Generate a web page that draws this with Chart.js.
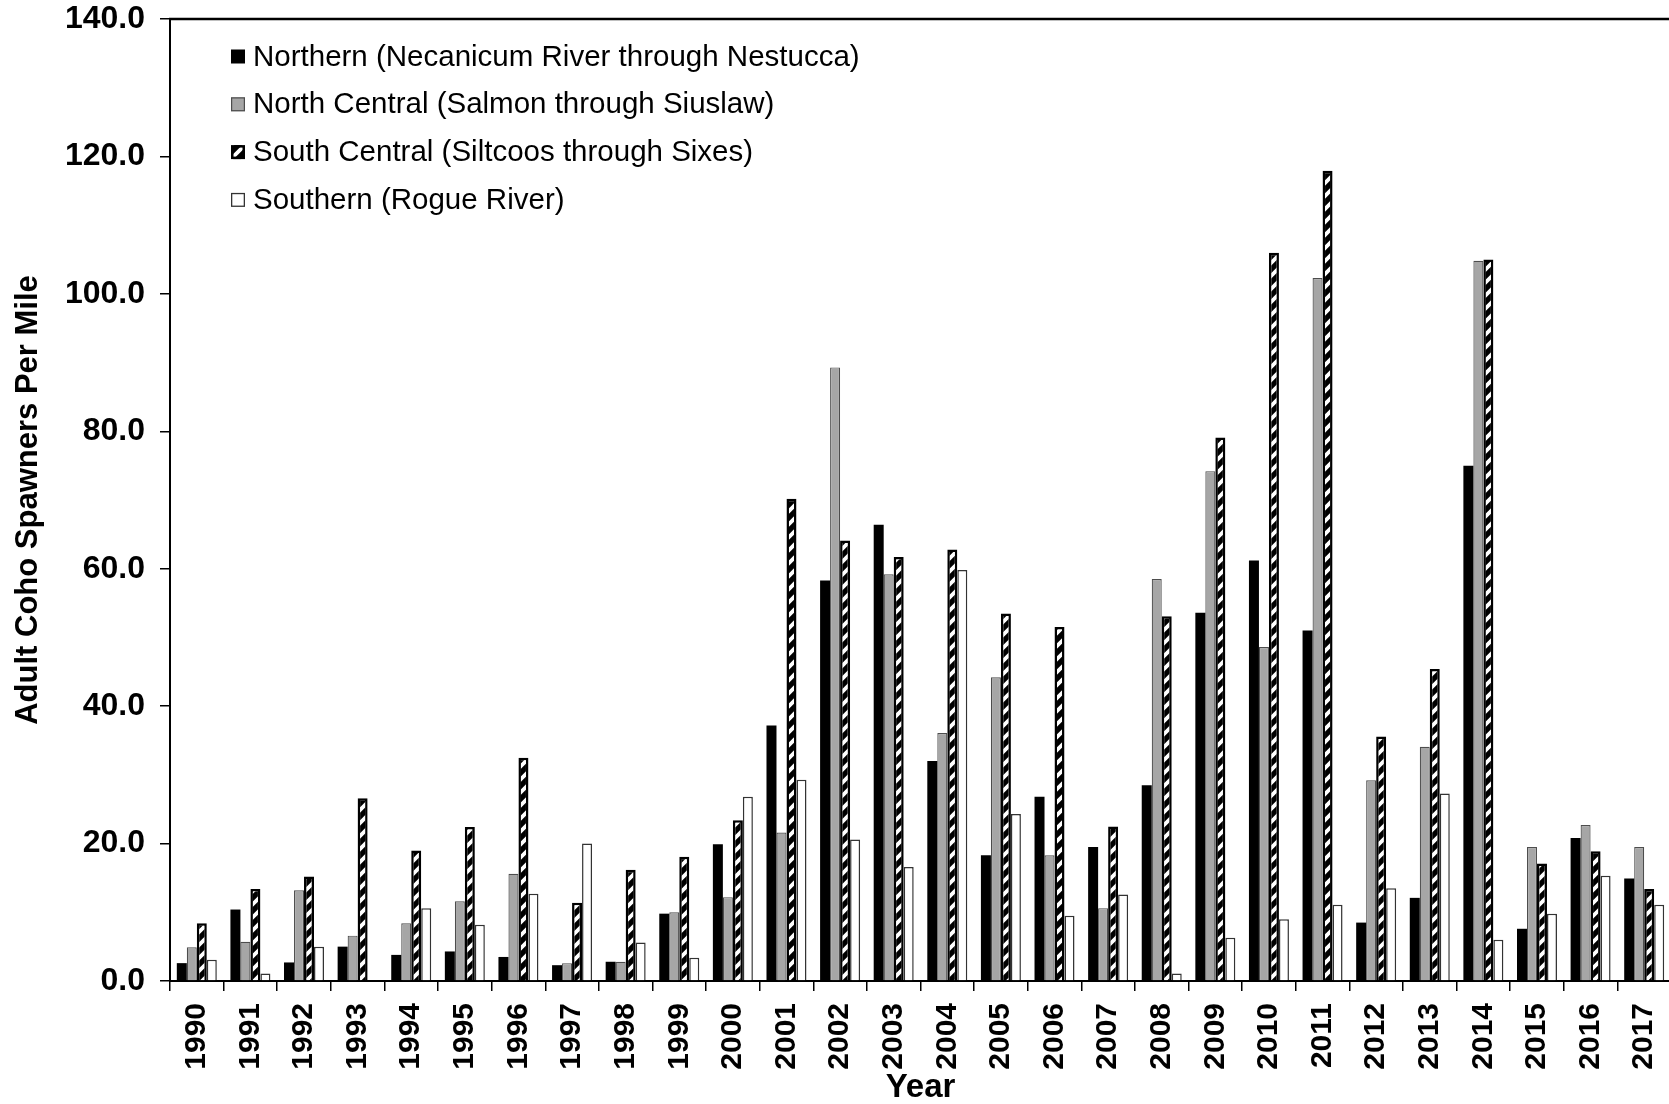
<!DOCTYPE html>
<html><head><meta charset="utf-8">
<script src="https://cdn.jsdelivr.net/npm/chart.js@4/dist/chart.umd.min.js"></script>
<style>
html,body{margin:0;padding:0;background:#fff;overflow:hidden;width:1669px;height:1104px;}
#wrap{position:absolute;left:0;top:0;width:1720px;height:1104px;}
</style></head><body>
<div id="wrap"><canvas id="c" width="1720" height="1104"></canvas></div>
<script>
const years = ['1990','1991','1992','1993','1994','1995','1996','1997','1998','1999','2000','2001','2002','2003','2004','2005','2006','2007','2008','2009','2010','2011','2012','2013','2014','2015','2016','2017'];
const northern     = [2.6, 10.4, 2.7, 5.0, 3.8, 4.3, 3.5, 2.3, 2.8, 9.8, 19.9, 37.2, 58.3, 66.4, 32.0, 18.3, 26.8, 19.5, 28.5, 53.6, 61.2, 51.0, 8.5, 12.1, 75.0, 7.6, 20.8, 14.9];
const northCentral = [4.9, 5.7, 13.2, 6.6, 8.4, 11.6, 15.6, 2.6, 2.8, 10.0, 12.2, 21.6, 89.3, 59.2, 36.1, 44.2, 18.3, 10.6, 58.5, 74.2, 48.6, 102.3, 29.2, 34.1, 104.8, 19.5, 22.7, 19.5];
const southCentral = [8.4, 13.4, 15.2, 26.6, 19.0, 22.4, 32.5, 11.4, 16.2, 18.1, 23.4, 70.2, 64.1, 61.7, 62.8, 53.5, 51.5, 22.5, 53.1, 79.1, 106.0, 117.9, 35.6, 45.4, 105.0, 17.1, 18.9, 13.4];
const southern     = [3.1, 1.1, 5.0, null, 10.6, 8.2, 12.7, 20.0, 5.6, 3.4, 26.8, 29.3, 20.6, 16.6, 59.8, 24.3, 9.5, 12.6, 1.1, 6.3, 9.0, 11.1, 13.5, 27.3, 6.0, 9.8, 15.3, 11.1];
const seriesNames = [
  'Northern (Necanicum River through Nestucca)',
  'North Central (Salmon through Siuslaw)',
  'South Central (Siltcoos through Sixes)',
  'Southern (Rogue River)'
];
const yAxisTitle = 'Adult Coho Spawners Per Mile';
const xAxisTitle = 'Year';

const FONT = "'Liberation Sans', Arial, sans-serif";

function makeHatch() {
  const P = 13;
  const c = document.createElement('canvas');
  c.width = P; c.height = P;
  const g = c.getContext('2d');
  g.fillStyle = '#000'; g.fillRect(0, 0, P, P);
  g.strokeStyle = '#fff'; g.lineWidth = 3.8;
  g.beginPath();
  g.moveTo(-1, P + 1); g.lineTo(P + 1, -1);
  g.moveTo(-P / 2 - 1, P / 2 + 1); g.lineTo(P / 2 + 1, -P / 2 - 1);
  g.moveTo(P / 2 - 1, P * 1.5 + 1); g.lineTo(P * 1.5 + 1, P / 2 - 1);
  g.stroke();
  return g.createPattern(c, 'repeat');
}
const hatch = makeHatch();

const frame = {
  id: 'frame',
  afterDraw(chart) {
    const {ctx, chartArea: a} = chart;
    ctx.save();
    ctx.strokeStyle = '#000';
    ctx.lineWidth = 2.5;
    ctx.beginPath();
    ctx.moveTo(a.left - 1, a.top);
    ctx.lineTo(a.right, a.top);
    ctx.stroke();
    ctx.restore();
  }
};

const boxLegend = {
  id: 'boxLegend',
  afterDraw(chart) {
    const {ctx, chartArea: a} = chart;
    const bx = a.left + 61, by0 = a.top + 37.5, step = 47.8, size = 14;
    ctx.save();
    ctx.font = '29.5px ' + FONT;
    ctx.textBaseline = 'middle';
    ctx.textAlign = 'left';
    chart.data.datasets.forEach((ds, i) => {
      const cy = by0 + i * step;
      ctx.fillStyle = ds.backgroundColor;
      ctx.fillRect(bx, cy - size / 2, size, size);
      if (ds.legendBorder) {
        ctx.strokeStyle = ds.borderColor;
        ctx.lineWidth = ds.legendBorder;
        const h = ds.legendBorder / 2;
        ctx.strokeRect(bx + h, cy - size / 2 + h, size - 2 * h, size - 2 * h);
      }
      ctx.fillStyle = '#000';
      ctx.fillText(ds.label, bx + size + 8, cy + 1);
    });
    ctx.restore();
  }
};

new Chart(document.getElementById('c'), {
  type: 'bar',
  data: {
    labels: years,
    datasets: [
      {label: seriesNames[0], data: northern, backgroundColor: '#000000', borderColor: '#000000', borderWidth: 0, legendBorder: 0},
      {label: seriesNames[1], data: northCentral, backgroundColor: '#a6a6a6', borderColor: '#4d4d4d', borderWidth: 1.2, legendBorder: 1.2},
      {label: seriesNames[2], data: southCentral, backgroundColor: hatch, borderColor: '#000000', borderWidth: 2.5, legendBorder: 2.5},
      {label: seriesNames[3], data: southern, backgroundColor: '#ffffff', borderColor: '#333333', borderWidth: 1.5, legendBorder: 1.3}
    ]
  },
  options: {
    responsive: false,
    animation: false,
    devicePixelRatio: 1,
    layout: {padding: {left: 0, top: 19, right: 49, bottom: 0}},
    datasets: {bar: {categoryPercentage: 0.746, barPercentage: 1.0, borderSkipped: 'bottom'}},
    plugins: {legend: {display: false}, tooltip: {enabled: false}},
    scales: {
      x: {
        offset: true,
        grid: {display: true, offset: true, drawOnChartArea: false, drawTicks: true, tickLength: 10, color: '#000', lineWidth: 1.5},
        border: {display: true, color: '#000', width: 2},
        ticks: {color: '#000', font: {family: FONT, size: 30, weight: 'bold'}, minRotation: 90, maxRotation: 90, padding: 12, autoSkip: false},
        title: {display: true, text: xAxisTitle, color: '#000', font: {family: FONT, size: 33, weight: 'bold', lineHeight: 1.0}, padding: {top: 0, bottom: 0}},
        afterFit(s) { s.height = 123; s.paddingLeft = 0; s.paddingRight = 0; }
      },
      y: {
        min: 0, max: 140,
        ticks: {stepSize: 20, callback: v => Number(v).toFixed(1), color: '#000', font: {family: FONT, size: 32, weight: 'bold'}, padding: 15},
        grid: {drawOnChartArea: false, drawTicks: true, tickLength: 10, color: '#000', lineWidth: 1.5},
        border: {display: true, color: '#000', width: 2},
        title: {display: true, text: yAxisTitle, color: '#000', font: {family: FONT, size: 31, weight: 'bold'}, padding: {top: 10, bottom: 0}},
        afterFit(s) { s.width = 170; s.paddingTop = 0; s.paddingBottom = 0; }
      }
    }
  },
  plugins: [frame, boxLegend]
});
</script>
</body></html>
